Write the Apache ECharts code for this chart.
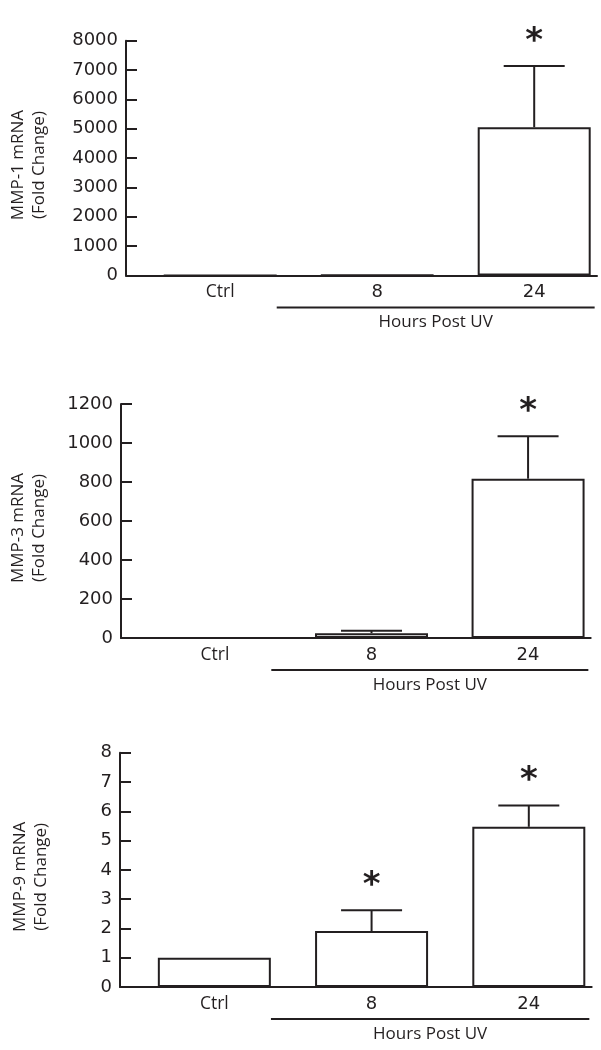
<!DOCTYPE html>
<html>
<head>
<meta charset="utf-8">
<script src="https://cdn.jsdelivr.net/npm/echarts@6/dist/echarts.min.js"></script>
<style>
html,body{margin:0;padding:0;background:#fff;}
#c{width:601px;height:1050px;}
</style>
</head>
<body>
<div id="c"></div>
<script>
// ---- data ----
const categories = ['Ctrl', '8', '24'];
const catPos = [0, 1, 2];
const groupLabel = 'Hours Post UV';

const mmp1Mean = [1, 8, 5050];
const mmp1Upper = [null, null, 7140];
const mmp1Sig = [0, 0, 1];

const mmp3Mean = [1, 25, 817];
const mmp3Upper = [null, 37, 1034];
const mmp3Sig = [0, 0, 1];

const mmp9Mean = [1, 1.91, 5.47];
const mmp9Upper = [null, 2.62, 6.2];
const mmp9Sig = [0, 1, 1];

const yMax = [8000, 1200, 8];
const yStep = [1000, 200, 1];
const yNames = ['MMP-1 mRNA\n(Fold Change)', 'MMP-3 mRNA\n(Fold Change)', 'MMP-9 mRNA\n(Fold Change)'];

const panels = [
  {mean: mmp1Mean, upper: mmp1Upper, sig: mmp1Sig},
  {mean: mmp3Mean, upper: mmp3Upper, sig: mmp3Sig},
  {mean: mmp9Mean, upper: mmp9Upper, sig: mmp9Sig}
];

// ---- layout / style ----
const INK = '#231f20';
const grids = [
  {left: 125, top: 40.7, width: 472, height: 234.7},
  {left: 119, top: 404, width: 471.7, height: 234},
  {left: 120, top: 752.7, width: 471.7, height: 234.3}
];
const nameGaps = [76, 71, 68.5];
const X_MIN = -0.6, X_MAX = 2.4;
const BAR_W = 113;
const CAP_W = 61;
const BRACKET = [0.36, 2.385];

const chart = echarts.init(document.getElementById('c'), null, {renderer: 'canvas'});

const xAxes = [], yAxes = [], series = [];
panels.forEach((p, i) => {
  xAxes.push({
    gridIndex: i, type: 'value', min: X_MIN, max: X_MAX,
    splitLine: {show: false},
    axisTick: {show: false},
    axisLine: {show: true, onZero: false, lineStyle: {color: INK, width: 2}},
    axisLabel: {
      customValues: catPos,
      margin: 8,
      formatter: v => {
        const k = catPos.indexOf(v);
        if (k < 0) return '';
        const t = categories[k];
        return /^\d+$/.test(t) ? '{n|' + t + '}' : '{w|' + t + '}';
      },
      rich: {
        n: {fontFamily: 'DejaVu Sans', fontSize: 18, color: INK},
        w: {fontFamily: 'Open Sans', fontSize: 17.5, color: INK}
      }
    }
  });
  yAxes.push({
    gridIndex: i, type: 'value', min: 0, max: yMax[i], interval: yStep[i],
    splitLine: {show: false},
    axisLine: {show: true, onZero: false, lineStyle: {color: INK, width: 2}},
    axisTick: {show: true, inside: true, length: 11, lineStyle: {color: INK, width: 2}},
    axisLabel: {margin: 8, color: INK, fontFamily: 'DejaVu Sans', fontSize: 18, formatter: v => String(v)},
    name: yNames[i],
    nameLocation: 'middle',
    nameRotate: 90,
    nameGap: nameGaps[i],
    nameTextStyle: {fontFamily: 'Open Sans', fontSize: 17, color: INK, lineHeight: 21, padding: [0, 14, 0, 0]}
  });
  series.push({
    type: 'bar', xAxisIndex: i, yAxisIndex: i,
    barWidth: BAR_W,
    data: catPos.map((x, k) => [x, p.mean[k]]),
    itemStyle: {color: '#ffffff', borderColor: INK, borderWidth: 2},
    emphasis: {disabled: true},
    silent: true,
    z: 2
  });
  const errData = [];
  catPos.forEach((x, k) => {
    if (p.upper[k] != null) errData.push([x, p.mean[k], p.upper[k], p.sig[k]]);
  });
  series.push({
    type: 'custom', xAxisIndex: i, yAxisIndex: i, silent: true, z: 3, clip: false,
    data: errData,
    renderItem: (params, api) => {
      const x = api.value(0), m = api.value(1), u = api.value(2), s = api.value(3);
      const pm = api.coord([x, m]);
      const pu = api.coord([x, u]);
      const children = [
        {type: 'line', shape: {x1: pu[0], y1: pm[1], x2: pu[0], y2: pu[1]}, style: {stroke: INK, lineWidth: 2}},
        {type: 'line', shape: {x1: pu[0] - CAP_W / 2, y1: pu[1], x2: pu[0] + CAP_W / 2, y2: pu[1]}, style: {stroke: INK, lineWidth: 2}}
      ];
      if (s) {
        children.push({type: 'text', style: {text: '*', x: pu[0], y: pu[1] - 24, align: 'center', verticalAlign: 'middle', font: 'bold 34px "DejaVu Sans"', fill: INK}});
      }
      return {type: 'group', children};
    }
  });
});

chart.setOption({
  animation: false,
  backgroundColor: '#ffffff',
  grid: grids,
  xAxis: xAxes,
  yAxis: yAxes,
  series: series
});

// bracket with "Hours Post UV" under the UV time points, positioned via axis scales
const graphics = [];
panels.forEach((p, i) => {
  const a = chart.convertToPixel({xAxisIndex: i, yAxisIndex: i}, [BRACKET[0], 0]);
  const b = chart.convertToPixel({xAxisIndex: i, yAxisIndex: i}, [BRACKET[1], 0]);
  const yLine = a[1] + 32;
  graphics.push({type: 'line', shape: {x1: a[0], y1: yLine, x2: b[0], y2: yLine}, style: {stroke: INK, lineWidth: 2}, silent: true});
  graphics.push({type: 'text', x: (a[0] + b[0]) / 2, y: a[1] + 47, style: {text: groupLabel, font: '17px "Open Sans"', fill: INK, align: 'center', verticalAlign: 'middle'}, silent: true});
});
chart.setOption({graphic: graphics});
</script>
</body>
</html>
